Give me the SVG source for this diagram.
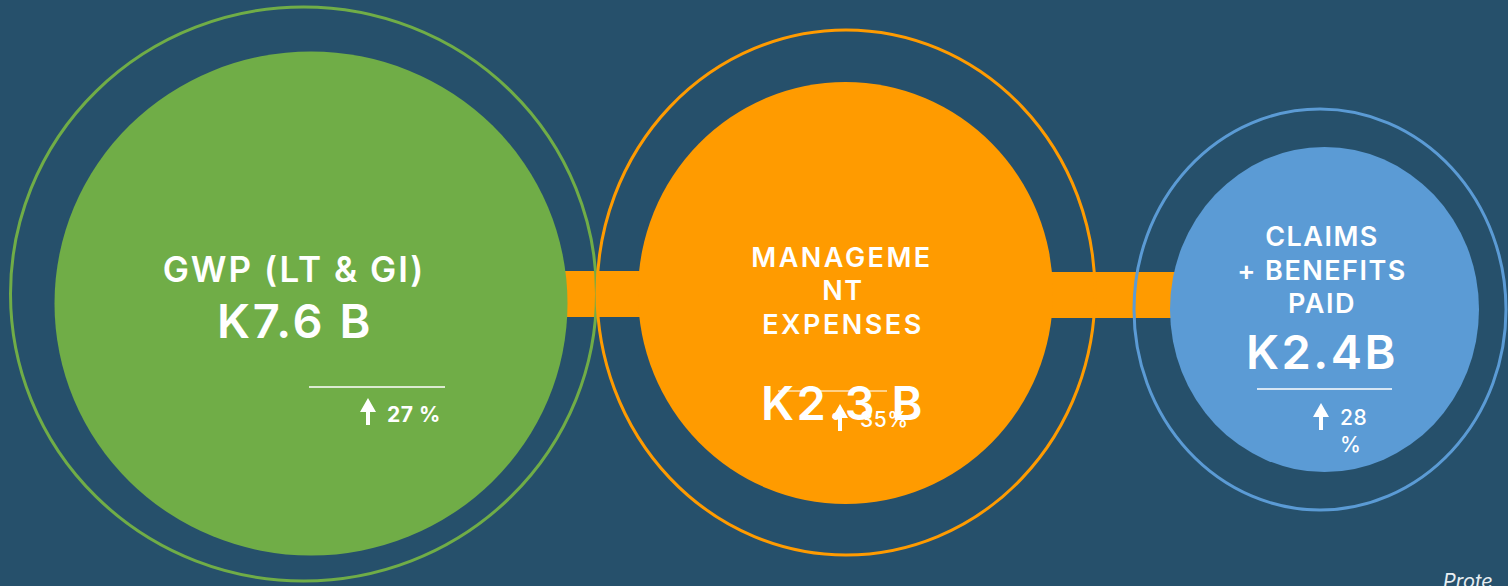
<svg xmlns="http://www.w3.org/2000/svg" width="1508" height="586" viewBox="0 0 1508 586">
<style>
.t{font-family:Inter,"Open Sans","Liberation Sans",sans-serif;fill:#fff;text-anchor:middle;font-weight:600}
.lbl{font-size:27px;letter-spacing:1.5px}
.big{font-size:47px;letter-spacing:2.5px}
.pct{font-size:21px;font-weight:700;letter-spacing:0.5px}
.rule{stroke:#fff;stroke-width:1.5}
.ring{fill:none;stroke-width:3}
</style>
<defs>
<path id="arrow" d="M0 0 L8 14 L2 14 L2 27 L-2 27 L-2 14 L-8 14 Z" fill="#fff"/>
</defs>
<rect width="1508" height="586" fill="#26506B"/>
<g id="connectors">
<rect x="560" y="271" width="90" height="46" fill="#FF9B00"/>
<rect x="1045" y="272" width="135" height="46" fill="#FF9B00"/>
</g>
<g id="node-gwp">
<ellipse cx="311" cy="303.5" rx="256.5" ry="252" fill="#70AD47"/>
<ellipse cx="303.5" cy="294" rx="293" ry="287" class="ring" stroke="#70AD47"/>
<text class="t" x="294" y="282" style="font-size:35px;letter-spacing:2px">GWP (LT &amp; GI)</text>
<text class="t big" x="295" y="338">K7.6 B</text>
<line class="rule" x1="309" y1="387" x2="445" y2="387"/>
<use href="#arrow" x="368" y="398"/>
<text class="t pct" x="387" y="422" style="text-anchor:start">27 %</text>
</g>
<g id="node-expenses">
<ellipse cx="845.5" cy="293" rx="207.5" ry="211" fill="#FF9B00"/>
<ellipse cx="846" cy="292.5" rx="249" ry="262.5" class="ring" stroke="#FF9B00"/>
<text class="t lbl" x="842" y="267" style="letter-spacing:2.5px">MANAGEME</text>
<text class="t lbl" x="843" y="300">NT</text>
<text class="t lbl" x="843" y="334" style="letter-spacing:2.5px">EXPENSES</text>
<line x1="778" y1="391" x2="887" y2="391" stroke="#FFE3B5" stroke-width="1.5"/>
<text class="t big" x="843" y="420">K2.3 B</text>
<use href="#arrow" x="840" y="404"/>
<text class="t pct" x="860" y="427" style="text-anchor:start;font-weight:500">35%</text>
</g>
<g id="node-claims">
<ellipse cx="1324.5" cy="309.5" rx="154.5" ry="162.5" fill="#5B9BD5"/>
<ellipse cx="1320" cy="309.5" rx="186" ry="200.5" class="ring" stroke="#5B9BD5"/>
<text class="t lbl" x="1322" y="246">CLAIMS</text>
<text class="t lbl" x="1322" y="280">+ BENEFITS</text>
<text class="t lbl" x="1322" y="313">PAID</text>
<text class="t big" x="1322" y="369">K2.4B</text>
<line class="rule" x1="1257" y1="389" x2="1392" y2="389"/>
<use href="#arrow" x="1321" y="403"/>
<text class="t pct" x="1340" y="425" style="text-anchor:start;font-weight:500">28</text>
<text class="t pct" x="1340" y="452" style="text-anchor:start;font-weight:500">%</text>
</g>
<text x="1443" y="588" font-family="Inter,'Open Sans','Liberation Sans',sans-serif" font-style="italic" font-size="20" fill="#E8EEF2">Prote</text>
</svg>
